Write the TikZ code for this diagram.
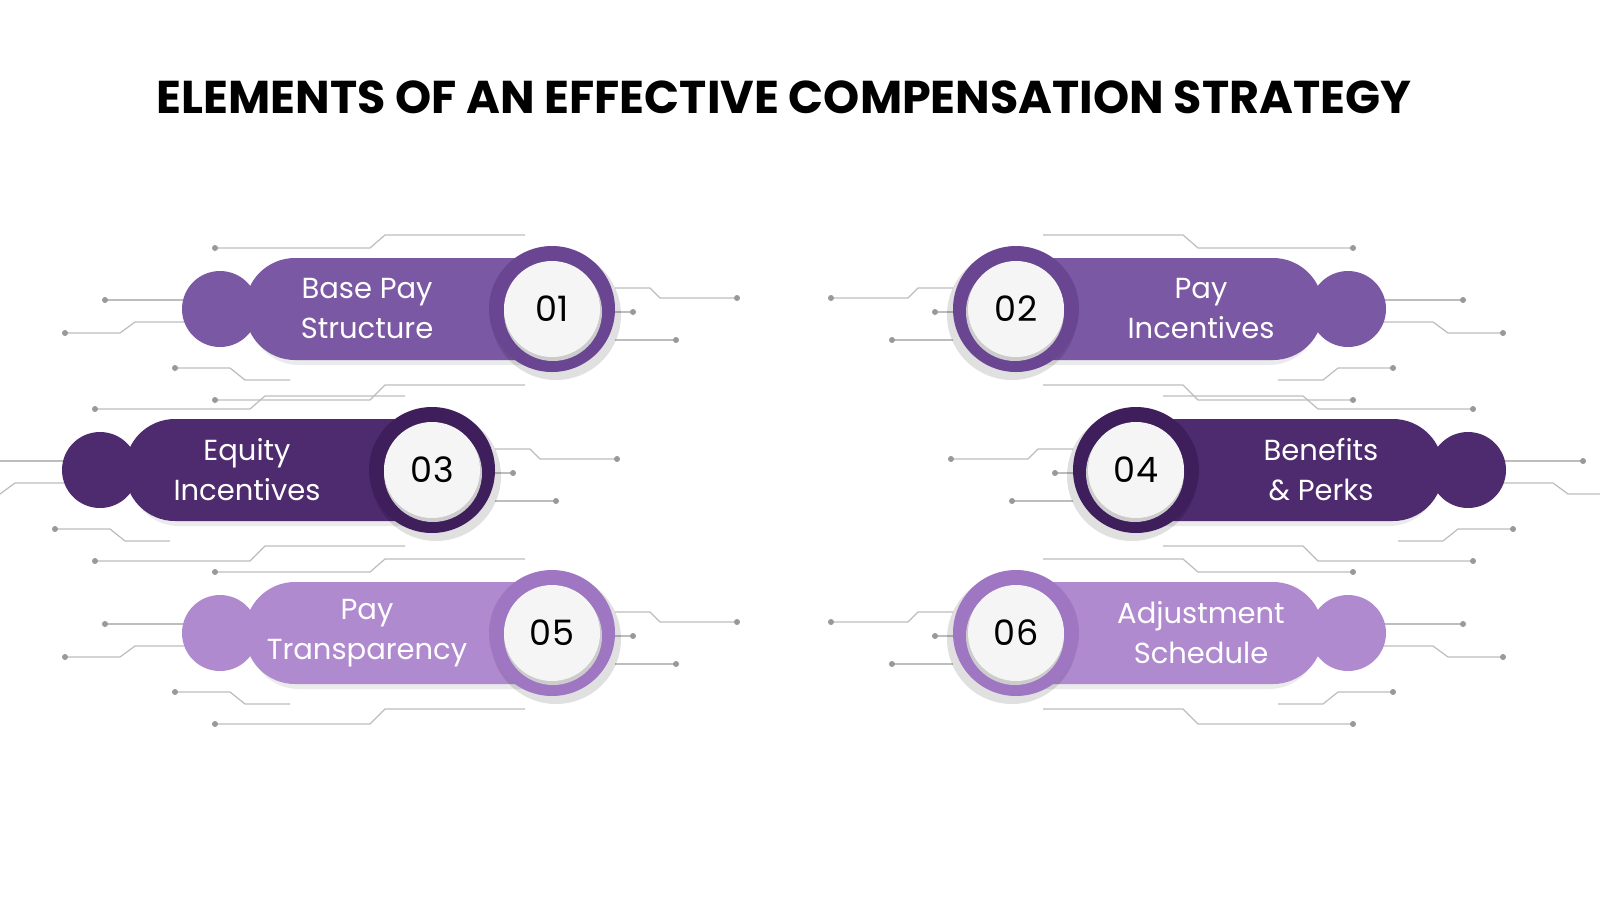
\documentclass[tikz,border=0pt]{standalone}
\usepackage{fontspec}
\setmainfont{Poppins}
\usetikzlibrary{positioning}
\definecolor{midpurple}{HTML}{7B58A3}
\definecolor{midring}{HTML}{6A4592}
\definecolor{darkpurple}{HTML}{4E2A6E}
\definecolor{darkring}{HTML}{3E1F5C}
\definecolor{lightpurple}{HTML}{B08ACF}
\definecolor{lightring}{HTML}{9E76C2}
\definecolor{tracegray}{HTML}{BDBDBD}
\begin{document}
\begin{tikzpicture}[x=1pt,y=-1pt,
    trace/.style={draw=tracegray,line width=1.2pt},
    tracedot/.style={fill=gray!80},
    label text/.style={text=white,align=center,font=\fontsize{29}{40}\selectfont},
    num text/.style={text=black,font=\fontsize{35}{38}\selectfont\addfontfeature{LetterSpace=2}},
    title text/.style={font=\fontsize{46}{50}\selectfont\bfseries}]

  \useasboundingbox[fill=white] (0,0) rectangle (1600,900);
  \node[title text] (title) at (784,97) {ELEMENTS OF AN EFFECTIVE COMPENSATION STRATEGY};

  % items: centre of number circle, side, fill, ring, number, label
  \foreach \cx/\cy/\sd/\fc/\rc/\num/\txt in {
      552/309/1/midpurple/midring/01/{Base Pay\\Structure},
      1016/309/-1/midpurple/midring/02/{Pay\\Incentives},
      432/470/1/darkpurple/darkring/03/{Equity\\Incentives},
      1136/470/-1/darkpurple/darkring/04/{Benefits\\\& Perks},
      552/633/1/lightpurple/lightring/05/{Pay\\Transparency},
      1016/633/-1/lightpurple/lightring/06/{Adjustment\\Schedule}}{
    \begin{scope}[shift={(\cx,\cy)},xscale=\sd]
      % circuit traces
      \draw[trace] (-337,-61) -- (-182,-61) -- (-167,-74) -- (-27,-74);
      \draw[trace] (-447,-9) -- (-367,-9);
      \draw[trace] (-487,24) -- (-432,24) -- (-417,13) -- (-367,13);
      \draw[trace] (-377,59) -- (-322,59) -- (-307,71) -- (-262,71);
      \draw[trace] (-337,91) -- (-182,91) -- (-167,76) -- (-27,76);
      \draw[trace] (63,-21) -- (98,-21) -- (108,-11) -- (185,-11);
      \draw[trace] (63,3) -- (81,3);
      \draw[trace] (63,31) -- (124,31);
      \foreach \px/\py in {-337/-61,-447/-9,-487/24,-377/59,-337/91,185/-11,81/3,124/31}
        \fill[tracedot] (\px,\py) circle (3);
      % shapes
      \fill[\fc] (-332,0) circle (38);
      \fill[black,opacity=.08,rounded corners=50] (-303,-46) rectangle (44,56);
      \fill[\fc,rounded corners=50] (-307,-51) rectangle (40,51);
      \fill[black,opacity=.12] (4,6) circle (65);
      \fill[\rc] (0,0) circle (63);
      \fill[black!20] (1,3) circle (49);
      \fill[white!96!black] (0,0) circle (48);
      \node[num text] (n\num) at (0,0) {\num};
      \node[label text] (l\num) at (-185,0) {\txt};
    \end{scope}
  }
\end{tikzpicture}
\end{document}
